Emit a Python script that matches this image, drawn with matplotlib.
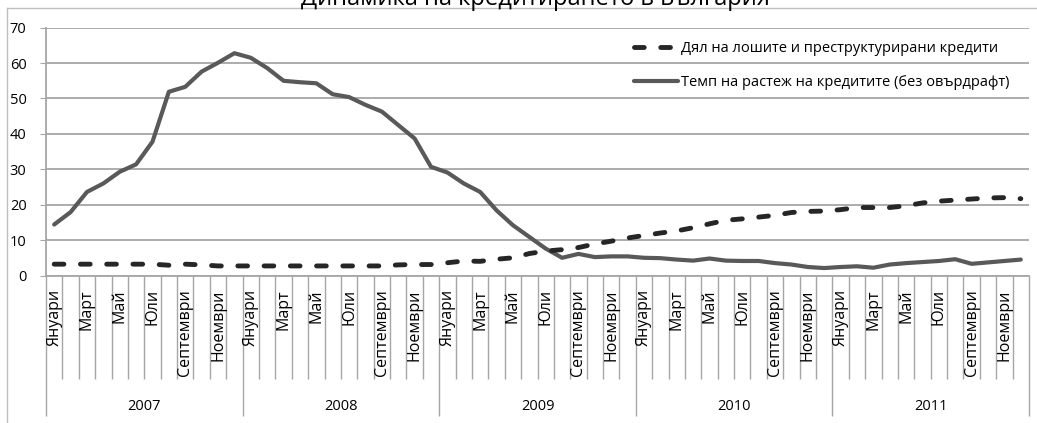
import numpy as np
import matplotlib
matplotlib.use('Agg')
import matplotlib.pyplot as plt
from matplotlib.lines import Line2D

plt.rcParams['font.family'] = ['Open Sans', 'DejaVu Sans']

title = 'Динамика на кредитирането в България'
years = ['2007', '2008', '2009', '2010', '2011']
month_labels = ['Януари', '', 'Март', '', 'Май', '', 'Юли', '', 'Септември', '', 'Ноември', '']

label_bad = 'Дял на лошите и преструктурирани кредити'
label_growth = 'Темп на растеж на кредитите (без овърдрафт)'

# monthly values, 2007 - 2011
bad_loans = [3.2, 3.2, 3.2, 3.2, 3.2, 3.2, 3.2, 2.9, 3.2, 3.0, 2.7, 2.7,
             2.7, 2.7, 2.7, 2.7, 2.7, 2.7, 2.7, 2.7, 2.7, 3.0, 3.1, 3.1,
             3.6, 4.1, 4.0, 4.6, 5.0, 6.2, 6.9, 7.3, 7.9, 8.9, 9.7, 10.6,
             11.3, 12.0, 12.6, 13.5, 14.6, 15.6, 16.0, 16.5, 17.0, 17.8, 18.1, 18.2,
             18.6, 19.2, 19.2, 19.2, 19.7, 20.5, 21.0, 21.3, 21.6, 21.9, 22.0, 21.7]

credit_growth = [14.4, 17.9, 23.6, 26.0, 29.3, 31.4, 37.8, 51.9, 53.3, 57.6, 60.1, 62.8,
                 61.5, 58.6, 55.0, 54.6, 54.3, 51.2, 50.4, 48.2, 46.3, 42.5, 38.7, 30.7,
                 29.1, 26.0, 23.6, 18.4, 14.2, 10.9, 7.6, 5.0, 6.1, 5.2, 5.4, 5.4,
                 5.0, 4.9, 4.5, 4.2, 4.8, 4.2, 4.1, 4.1, 3.5, 3.1, 2.4, 2.1,
                 2.4, 2.6, 2.2, 3.1, 3.5, 3.8, 4.1, 4.6, 3.3, 3.7, 4.1, 4.5]

W, H = 1037, 423
fig = plt.figure(figsize=(W / 100, H / 100), dpi=100)
ax = fig.add_axes([46 / W, 147.5 / H, (1029 - 46) / W, (275.5 - 27.7) / H])

x = np.arange(len(credit_growth)) + 0.5
l_growth, = ax.plot(x, credit_growth, color='#595959', lw=3,
                    solid_joinstyle='round', solid_capstyle='round')
l_bad, = ax.plot(x, bad_loans, color='#262626', lw=3.5, dashes=(2.0, 3.4),
                 dash_capstyle='round', dash_joinstyle='round')

grid_col = '#a6a6a6'
ax.set_xlim(0, 60)
ax.set_ylim(0, 70)
ax.set_yticks(range(0, 71, 10))
ax.grid(axis='y', color=grid_col, lw=1.3)
ax.set_axisbelow(True)
for s in ['top', 'right']:
    ax.spines[s].set_visible(False)
for s in ['left', 'bottom']:
    ax.spines[s].set_color(grid_col)
    ax.spines[s].set_linewidth(1.3)

# category axis: month boundaries + long year separators
ax.set_xticks(np.arange(0, 61, 12))
ax.set_xticklabels([])
ax.set_xticks(np.arange(61), minor=True)
ax.tick_params(axis='x', which='major', length=101, color=grid_col, width=1)
ax.tick_params(axis='x', which='minor', length=74, color=grid_col, width=1)
ax.tick_params(axis='y', length=4, color=grid_col, pad=10, labelsize=10.5)

trans = ax.get_xaxis_transform()
for k in range(len(credit_growth)):
    lab = month_labels[k % 12]
    if lab:
        ax.text(k + 0.5, -0.055, lab, rotation=90, ha='center', va='top',
                transform=trans, fontsize=11.5)
for j, yr in enumerate(years):
    ax.text(12 * j + 6, -0.53, yr, ha='center', va='center',
            transform=trans, fontsize=10.5)

# legend
ax.legend([l_bad, l_growth], [label_bad, label_growth], loc='upper left',
          bbox_to_anchor=(634 / W, 1 - 41 / H), bbox_transform=fig.transFigure,
          frameon=False, fontsize=10.5, handlelength=3.0, handletextpad=0.2,
          labelspacing=1.3, borderaxespad=0, borderpad=0)

# chart border and title
fig.add_artist(Line2D([7 / W, 7 / W], [0, 1 - 8 / H], transform=fig.transFigure,
                      color='#bfbfbf', lw=1))
fig.add_artist(Line2D([7 / W, 1], [1 - 8 / H, 1 - 8 / H], transform=fig.transFigure,
                      color='#bfbfbf', lw=1))
fig.text(535 / W, 1 - 5 / H, title, ha='center', va='baseline', fontsize=17)

plt.savefig('out.png', dpi=100)
